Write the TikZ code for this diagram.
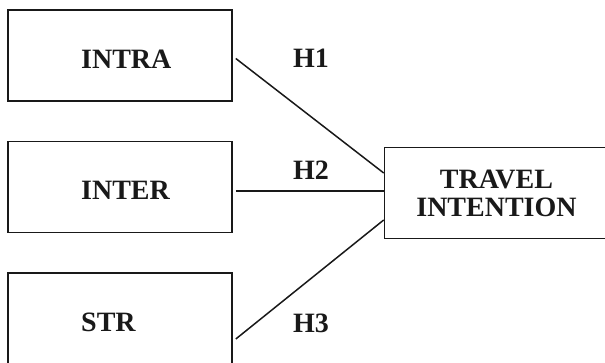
\documentclass[tikz,border=0pt]{standalone}
\usepackage{fontspec}
\setmainfont{Liberation Serif}
\usetikzlibrary{positioning}
\begin{document}
\begin{tikzpicture}[x=1pt,y=-1pt,
  varbox/.style={draw=black!90, line width=1.6pt, minimum width=224pt, minimum height=91pt, inner sep=0pt},
  varname/.style={anchor=base west, inner sep=0pt, font=\fontsize{28}{28}\selectfont\bfseries, text=black!90},
  hyp/.style={anchor=base, inner sep=0pt, font=\fontsize{28}{28}\selectfont\bfseries, text=black!90},
  path/.style={draw=black!90, line width=1.5pt}]
\useasboundingbox (0,0) rectangle (605,363);
\node[varbox] (intra) at (120,55.5) {};
\node[varbox] (inter) at (120,187) {};
\node[varbox] (str) at (120,318.5) {};
\node[varbox, align=center, font=\fontsize{28}{28}\selectfont\bfseries, text=black!90] (travel) at (496.5,193) {TRAVEL\\INTENTION};
\node[varname] (intraname) at (81,69) {INTRA};
\node[varname] (intername) at (81,200) {INTER};
\node[varname] (strname) at (81,331) {STR};
\node[hyp] (h1) at (311,68) {H1};
\node[hyp] (h2) at (311,180) {H2};
\node[hyp] (h3) at (311,332) {H3};
\draw[path] ([xshift=3pt,yshift=-3pt]intra.east) -- ([yshift=20pt]travel.west);
\draw[path] ([xshift=3pt,yshift=-4pt]inter.east) -- ([yshift=2pt]travel.west);
\draw[path] ([xshift=3pt,yshift=-20.5pt]str.east) -- ([yshift=-27pt]travel.west);
\end{tikzpicture}
\end{document}
